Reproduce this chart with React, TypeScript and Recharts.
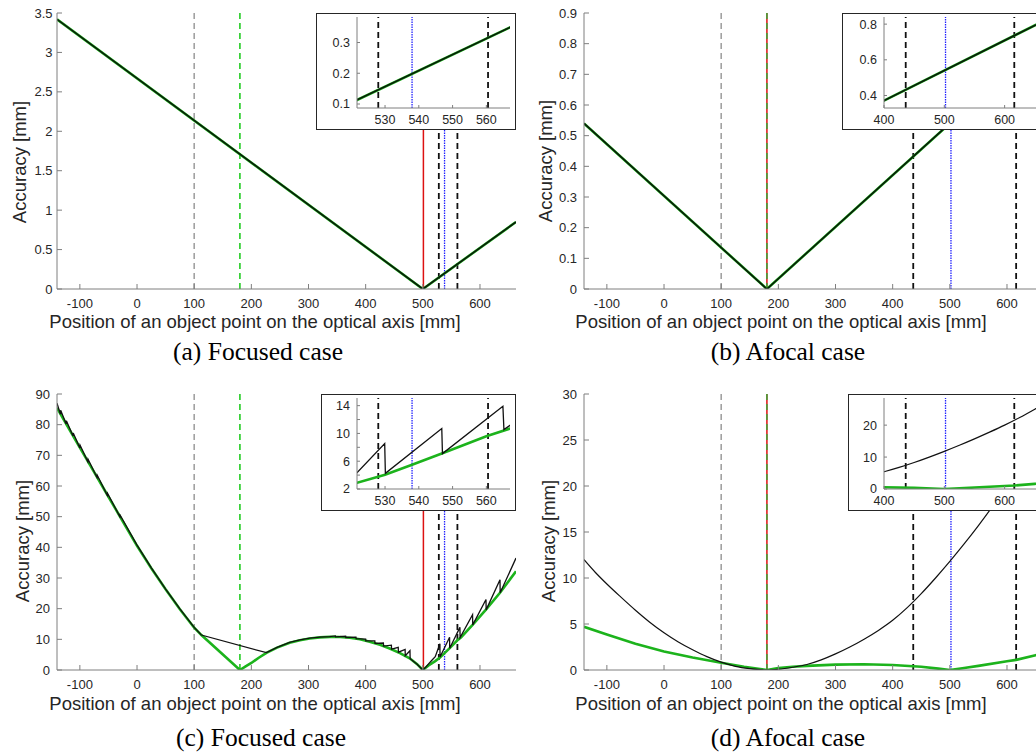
import { Line, LineChart, ReferenceLine, XAxis, YAxis } from "recharts";

const AXIS_FONT = "'Liberation Sans', Arial, Helvetica, sans-serif";
const CAPTION_FONT = "'Liberation Serif', 'Times New Roman', serif";
const TEXT_COLOR = "#262626";
const AXIS_COLOR = "#7f7f7f";
const GREEN = "#1cb31c";

// x axis of every main plot
const mainXTicks = [-100, 0, 100, 200, 300, 400, 500, 600];

// (a) focused case, both curves coincide
const focusedPosA = [-140, 500, 663];
const focusedAccA = [3.42, 0, 0.85];

// (b) afocal case, both curves coincide
const afocalPosB = [-140, 180, 663];
const afocalAccB = [0.54, 0, 0.815];

// (c) focused case, green curve
const focusedGreenPosC = [
  -140, -120, -100, -75, -50, -25, 0, 25, 50, 75, 100, 112.6, 180, 190, 200,
  213, 226.4, 245, 267, 285, 302, 320, 337, 355, 372, 390, 407, 425, 442, 460,
  477, 490, 500, 510, 521.7, 530, 538, 547, 560, 567, 587, 610, 635, 663,
];
const focusedGreenAccC = [
  85.5, 79, 72.5, 64.5, 56.5, 48.5, 40.5, 33.2, 26.3, 19.8, 13.8, 11.4, 0, 1.2,
  2.3, 4.0, 5.6, 7.3, 8.9, 9.7, 10.3, 10.65, 10.8, 10.75, 10.5, 10.0, 9.2, 8.2,
  7.0, 5.5, 3.8, 1.9, 0, 1.5, 2.9, 4.05, 5.5, 7.15, 9.6, 10.7, 14.7, 19.6, 25.2,
  32.2,
];

// (c) focused case, black curve (sawtooth)
const focusedBlackPosC = [
  -140, -134, -133.6, -124, -123.6, -112, -111.6, -100, -99.6, -86, -85.6, -70,
  -69.6, -52, -51.6, -30, -29.6, 0, 25, 50, 75, 100, 112.6, 226.4, 245, 267,
  285, 302, 320, 337, 347, 347.3, 365, 365.3, 383, 383.3, 400, 400.3, 416,
  416.3, 431, 431.3, 445, 445.3, 457, 457.3, 469, 469.3, 477.5, 477.8, 490, 500,
  505, 510, 515, 521.7, 529.9, 530.1, 546.8, 547, 564.9, 565.2, 587, 587.3,
  610.5, 610.8, 635, 635.3, 663,
];
const focusedBlackAccC = [
  87.0, 83.4, 84.7, 80.2, 81.3, 76.3, 77.3, 72.4, 73.3, 67.9, 68.7, 62.8, 63.5,
  57.0, 57.6, 50.0, 50.5, 40.7, 33.3, 26.4, 19.9, 13.9, 11.4, 5.65, 7.4, 9.0,
  9.8, 10.4, 10.75, 10.9, 11.1, 10.8, 11.0, 10.6, 10.7, 10.2, 10.1, 9.5, 9.5,
  8.7, 8.8, 7.8, 8.1, 6.8, 7.4, 5.8, 6.7, 4.7, 6.3, 3.7, 1.9, 0, 0.9, 2.0, 3.0,
  4.35, 8.55, 4.25, 10.7, 7.1, 13.9, 10.55, 18.0, 14.7, 23.0, 19.6, 29.4, 25.2,
  36.5,
];

// (d) afocal case, black curve
const afocalBlackPosD = [
  -140, -120, -100, -75, -50, -25, 0, 25, 50, 75, 100, 125, 150, 180, 200, 225,
  250, 275, 300, 325, 350, 375, 400, 425, 450, 475, 500, 525, 550, 575, 600,
  625, 650, 663,
];
const afocalBlackAccD = [
  12.0, 10.6, 9.35, 7.9, 6.5, 5.2, 4.05, 3.05, 2.2, 1.45, 0.85, 0.4, 0.15, 0,
  0.08, 0.3, 0.6, 1.1, 1.75, 2.5, 3.35, 4.3, 5.4, 6.75, 8.3, 10.0, 11.8, 13.7,
  15.7, 17.8, 20.0, 22.4, 25.0, 26.4,
];

// (d) afocal case, green curve
const afocalGreenPosD = [
  -140, -100, -50, 0, 50, 100, 140, 180, 200, 225, 250, 300, 350, 400, 450, 480,
  500, 525, 550, 600, 616, 650, 663,
];
const afocalGreenAccD = [
  4.7, 3.85, 2.85, 2.0, 1.35, 0.78, 0.35, 0, 0.2, 0.35, 0.45, 0.58, 0.62, 0.55,
  0.35, 0.15, 0, 0.22, 0.45, 0.95, 1.1, 1.6, 1.8,
];

// vertical marker positions [mm]
const focusedBlackDashed = [528, 560.5];
const afocalBlackDashed = [436, 616];
const focusedMarks = { gray: 100, green: 180, red: 501, blue: 538 };
const afocalMarks = { gray: 100, green: 180, red: 180, blue: 502 };

type Pt = { x: number; y: number };
type Series = { data: Pt[]; color: string; width: number; curve?: "linear" | "monotone" };
type Marks = { gray: number; green: number; red: number; blue: number; black: number[]; greenOverRed: boolean };

const zip = (xs: number[], ys: number[]): Pt[] => xs.map((x, i) => ({ x, y: ys[i] }));

const seriesA: Series[] = [
  { data: zip(focusedPosA, focusedAccA), color: GREEN, width: 2.6 },
  { data: zip(focusedPosA, focusedAccA), color: "#0a1a0a", width: 1.6 },
];
const seriesB: Series[] = [
  { data: zip(afocalPosB, afocalAccB), color: GREEN, width: 2.6 },
  { data: zip(afocalPosB, afocalAccB), color: "#0a1a0a", width: 1.6 },
];
const seriesC: Series[] = [
  { data: zip(focusedGreenPosC, focusedGreenAccC), color: GREEN, width: 2.6 },
  { data: zip(focusedBlackPosC, focusedBlackAccC), color: "#111", width: 1.3 },
];
const seriesD: Series[] = [
  { data: zip(afocalGreenPosD, afocalGreenAccD), color: GREEN, width: 2.6 },
  { data: zip(afocalBlackPosD, afocalBlackAccD), color: "#111", width: 1.2, curve: "monotone" },
];

const focused: Marks = { ...focusedMarks, black: focusedBlackDashed, greenOverRed: false };
const afocal: Marks = { ...afocalMarks, black: afocalBlackDashed, greenOverRed: true };

function markerLines(m: Marks) {
  const lines = [
    <ReferenceLine key="gray" x={m.gray} stroke="#9c9c9c" strokeWidth={1.5} strokeDasharray="6 4" />,
  ];
  if (!m.greenOverRed) {
    lines.push(<ReferenceLine key="green" x={m.green} stroke="#22cc22" strokeWidth={1.6} strokeDasharray="6 4" />);
  }
  lines.push(<ReferenceLine key="red" x={m.red} stroke="#dd1111" strokeWidth={1.5} />);
  if (m.greenOverRed) {
    lines.push(<ReferenceLine key="green" x={m.green} stroke="#3aa83a" strokeWidth={1.5} strokeDasharray="6 4" />);
  }
  m.black.forEach((x) =>
    lines.push(<ReferenceLine key={"k" + x} x={x} stroke="#111" strokeWidth={1.8} strokeDasharray="6 4" />)
  );
  lines.push(<ReferenceLine key="blue" x={m.blue} stroke="#2222ff" strokeWidth={1.3} strokeDasharray="1.5 1" />);
  return lines;
}

function seriesLines(series: Series[]) {
  return series.map((s, i) => (
    <Line
      key={i}
      data={s.data}
      dataKey="y"
      type={s.curve ?? "linear"}
      stroke={s.color}
      strokeWidth={s.width}
      dot={false}
      activeDot={false}
      isAnimationActive={false}
    />
  ));
}

function MainPanel(props: {
  left: number;
  top: number;
  yDomain: [number, number];
  yTicks: number[];
  yGap: number;
  series: Series[];
  marks: Marks;
}) {
  const tick = { fill: TEXT_COLOR, fontSize: 13, fontFamily: AXIS_FONT };

  return (
    <div style={{ position: "absolute", left: props.left, top: props.top }}>
      <LineChart width={530} height={340} margin={{ top: 13, right: 14, bottom: 0, left: 0 }}>
        <XAxis
          type="number"
          dataKey="x"
          domain={[-140, 663]}
          ticks={mainXTicks}
          interval={0}
          allowDataOverflow
          height={51}
          tickSize={-5}
          tickMargin={14.5}
          tick={tick}
          axisLine={{ stroke: AXIS_COLOR }}
          tickLine={{ stroke: AXIS_COLOR }}
        />
        <YAxis
          type="number"
          domain={props.yDomain}
          ticks={props.yTicks}
          interval={0}
          allowDataOverflow
          width={57}
          tickSize={-5}
          tickMargin={5 + props.yGap}
          tick={tick}
          axisLine={{ stroke: AXIS_COLOR }}
          tickLine={{ stroke: AXIS_COLOR }}
        />
        {markerLines(props.marks)}
        {seriesLines(props.series)}
      </LineChart>
    </div>
  );
}

function Inset(props: {
  left: number;
  top: number;
  width: number;
  yAxisWidth: number;
  marginRight: number;
  xDomain: [number, number];
  xTicks: number[];
  yDomain: [number, number];
  yTicks: number[];
  yFormat?: (v: number) => string;
  series: Series[];
  marks: Marks;
}) {
  const tick = { fill: TEXT_COLOR, fontSize: 12.5, fontFamily: AXIS_FONT };

  return (
    <div
      style={{
        position: "absolute",
        left: props.left,
        top: props.top,
        width: props.width,
        height: 117,
        boxSizing: "border-box",
        border: "1px solid #262626",
        background: "#fff",
      }}
    >
      <LineChart
        width={props.width - 2}
        height={115}
        margin={{ top: 3, right: props.marginRight, bottom: 0, left: 0 }}
      >
        <XAxis
          type="number"
          dataKey="x"
          domain={props.xDomain}
          ticks={props.xTicks}
          interval={0}
          allowDataOverflow
          height={21}
          tickSize={-3}
          tickMargin={10}
          tick={tick}
          axisLine={{ stroke: AXIS_COLOR }}
          tickLine={{ stroke: AXIS_COLOR }}
        />
        <YAxis
          type="number"
          domain={props.yDomain}
          ticks={props.yTicks}
          tickFormatter={props.yFormat}
          interval={0}
          allowDataOverflow
          width={props.yAxisWidth}
          tickSize={-3}
          tickMargin={10}
          tick={tick}
          axisLine={{ stroke: AXIS_COLOR }}
          tickLine={{ stroke: AXIS_COLOR }}
        />
        {markerLines(props.marks)}
        {seriesLines(props.series)}
      </LineChart>
    </div>
  );
}

const X_TITLE = "Position of an object point on the optical axis [mm]";
const Y_TITLE = "Accuracy [mm]";

export default function App() {
  return (
    <div
      style={{
        position: "absolute",
        left: 0,
        top: 0,
        width: 1036,
        height: 753,
        overflow: "hidden",
        background: "#fff",
      }}
    >
      {/* (a) focused */}
      <MainPanel
        left={0}
        top={0}
        yDomain={[0, 3.5]}
        yTicks={[0, 0.5, 1, 1.5, 2, 2.5, 3, 3.5]}
        yGap={4.5}
        series={seriesA}
        marks={focused}
      />
      <Inset
        left={316}
        top={13}
        width={200}
        yAxisWidth={40}
        marginRight={5}
        xDomain={[521.7, 567]}
        xTicks={[530, 540, 550, 560]}
        yDomain={[0.087, 0.383]}
        yTicks={[0.1, 0.2, 0.3]}
        series={seriesA}
        marks={focused}
      />

      {/* (b) afocal */}
      <MainPanel
        left={527}
        top={0}
        yDomain={[0, 0.9]}
        yTicks={[0, 0.1, 0.2, 0.3, 0.4, 0.5, 0.6, 0.7, 0.8, 0.9]}
        yGap={7}
        series={seriesB}
        marks={afocal}
      />
      <Inset
        left={842}
        top={13}
        width={200}
        yAxisWidth={41}
        marginRight={5}
        xDomain={[400, 652]}
        xTicks={[400, 500, 600]}
        yDomain={[0.33, 0.84]}
        yTicks={[0.4, 0.6, 0.8]}
        series={seriesB}
        marks={afocal}
      />

      {/* (c) focused */}
      <MainPanel
        left={0}
        top={381}
        yDomain={[0, 90]}
        yTicks={[0, 10, 20, 30, 40, 50, 60, 70, 80, 90]}
        yGap={7}
        series={seriesC}
        marks={focused}
      />
      <Inset
        left={321}
        top={394}
        width={195}
        yAxisWidth={35}
        marginRight={5}
        xDomain={[521.7, 567]}
        xTicks={[530, 540, 550, 560]}
        yDomain={[2, 15.1]}
        yTicks={[2, 4, 6, 8, 10, 12, 14]}
        yFormat={(v) => (v % 4 === 2 ? String(v) : "")}
        series={seriesC}
        marks={focused}
      />

      {/* (d) afocal */}
      <MainPanel
        left={527}
        top={381}
        yDomain={[0, 30]}
        yTicks={[0, 5, 10, 15, 20, 25, 30]}
        yGap={7}
        series={seriesD}
        marks={afocal}
      />
      <Inset
        left={848}
        top={394}
        width={200}
        yAxisWidth={35}
        marginRight={11}
        xDomain={[400, 652]}
        xTicks={[400, 500, 600]}
        yDomain={[0, 28.5]}
        yTicks={[0, 10, 20]}
        series={seriesD}
        marks={afocal}
      />

      {/* titles and captions */}
      <svg
        width={1036}
        height={753}
        style={{ position: "absolute", left: 0, top: 0, pointerEvents: "none" }}
      >
        <g fontFamily={AXIS_FONT} fontSize={18.5} fill={TEXT_COLOR} textAnchor="middle">
          <text x={255} y={328}>{X_TITLE}</text>
          <text x={781} y={328}>{X_TITLE}</text>
          <text x={255} y={709.5}>{X_TITLE}</text>
          <text x={781} y={709.5}>{X_TITLE}</text>
          <text transform="translate(26,162) rotate(-90)">{Y_TITLE}</text>
          <text transform="translate(552,161) rotate(-90)">{Y_TITLE}</text>
          <text transform="translate(29,541) rotate(-90)">{Y_TITLE}</text>
          <text transform="translate(555,541) rotate(-90)">{Y_TITLE}</text>
        </g>
        <g fontFamily={CAPTION_FONT} fontSize={25.5} fill="#000" textAnchor="middle">
          <text x={258} y={360}>(a) Focused case</text>
          <text x={788} y={360}>(b) Afocal case</text>
          <text x={261} y={746}>(c) Focused case</text>
          <text x={788} y={746}>(d) Afocal case</text>
        </g>
      </svg>
    </div>
  );
}
